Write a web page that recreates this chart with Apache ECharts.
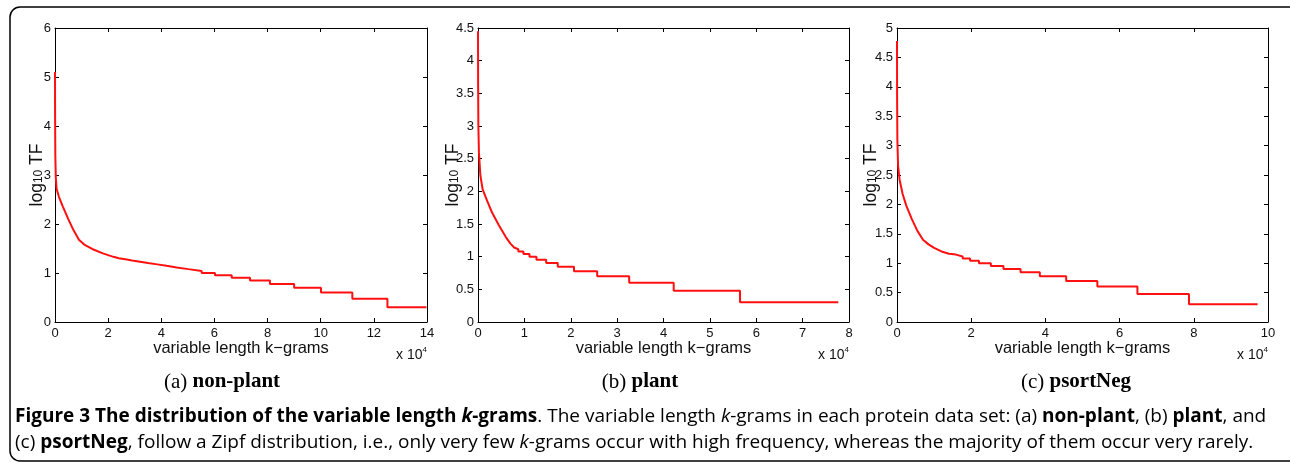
<!DOCTYPE html>
<html>
<head>
<meta charset="utf-8">
<script src="https://cdn.jsdelivr.net/npm/echarts@6/dist/echarts.min.js"></script>
<style>
html, body { margin: 0; padding: 0; background: #fff; }
#chart { width: 1290px; height: 462px; }
</style>
</head>
<body>
<div id="chart"></div>
<script>
// x values are in units of 10^4 k-grams, y values are log10 TF
// steep head of each curve
var nonPlantHeadX = [0, 0.004, 0.012, 0.03, 0.06, 0.15, 0.3, 0.5, 0.7, 0.9, 1.1, 1.4, 1.8, 2.2];
var nonPlantHeadY = [5.1, 4.2, 3.4, 2.95, 2.72, 2.55, 2.35, 2.1, 1.87, 1.68, 1.58, 1.49, 1.4, 1.33];
// staircase tail: level i is held from stepX[i] to stepX[i+1]
var nonPlantStepX = [2.2, 2.4, 2.65, 2.9, 3.2, 3.5, 3.85, 4.2, 4.58, 5.02, 5.52, 6.02, 6.65, 7.34, 8.09, 9.0, 10.01, 11.19, 12.51, 13.98];
var nonPlantStepY = [1.301, 1.279, 1.255, 1.23, 1.204, 1.176, 1.146, 1.114, 1.079, 1.041, 1.0, 0.954, 0.903, 0.845, 0.778, 0.699, 0.602, 0.477, 0.301];

var plantHeadX = [0, 0.003, 0.008, 0.02, 0.05, 0.1, 0.2, 0.3, 0.45, 0.6, 0.7, 0.78];
var plantHeadY = [4.45, 3.6, 3.0, 2.6, 2.25, 2.03, 1.85, 1.68, 1.48, 1.3, 1.2, 1.14];
var plantStepX = [0.78, 0.87, 0.98, 1.11, 1.26, 1.47, 1.72, 2.07, 2.57, 3.26, 4.22, 5.65, 7.77];
var plantStepY = [1.114, 1.079, 1.041, 1.0, 0.954, 0.903, 0.845, 0.778, 0.699, 0.602, 0.477, 0.301];

var psortHeadX = [0, 0.003, 0.01, 0.03, 0.07, 0.15, 0.25, 0.4, 0.55, 0.7, 0.85, 1.0, 1.2, 1.4];
var psortHeadY = [4.78, 3.8, 3.1, 2.65, 2.42, 2.18, 1.98, 1.75, 1.55, 1.4, 1.32, 1.26, 1.2, 1.16];
var psortStepX = [1.4, 1.59, 1.77, 1.97, 2.21, 2.53, 2.87, 3.33, 3.85, 4.56, 5.4, 6.48, 7.87, 9.72];
var psortStepY = [1.146, 1.114, 1.079, 1.041, 1.0, 0.954, 0.903, 0.845, 0.778, 0.699, 0.602, 0.477, 0.301];

var panelLetters = ['(a)', '(b)', '(c)'];
var panelNames = ['non-plant', 'plant', 'psortNeg'];
var xMaxes = [14, 8, 10];
var xIntervals = [2, 1, 2];
var yMaxes = [6, 4.5, 5];
var yIntervals = [1, 0.5, 0.5];

function buildPoints(hx, hy, sx, sy) {
    var pts = [];
    for (var i = 0; i < hx.length; i++) pts.push([hx[i], hy[i]]);
    for (var j = 0; j < sy.length; j++) {
        pts.push([sx[j], sy[j]]);
        pts.push([sx[j + 1], sy[j]]);
    }
    return pts;
}

var seriesData = [
    buildPoints(nonPlantHeadX, nonPlantHeadY, nonPlantStepX, nonPlantStepY),
    buildPoints(plantHeadX, plantHeadY, plantStepX, plantStepY),
    buildPoints(psortHeadX, psortHeadY, psortStepX, psortStepY)
];

// layout of the three panels
var gridLefts = [55, 478, 897];
var gridWidths = [372, 371, 371];
var yNameGaps = [10, 17, 18];
var subCenters = [222, 640, 1076];

var tickFont = { fontFamily: 'Liberation Sans', fontSize: 13, color: '#111' };

var grids = [], xAxes = [], yAxes = [], series = [], graphics = [];

for (var k = 0; k < 3; k++) {
    grids.push({ left: gridLefts[k], top: 28, width: gridWidths[k], height: 294 });

    var xBase = {
        gridIndex: k, type: 'value', min: 0, max: xMaxes[k], interval: xIntervals[k],
        axisLine: { show: true, onZero: false, lineStyle: { color: '#000', width: 1 } },
        axisTick: { show: true, inside: true, length: 4, lineStyle: { color: '#000' } },
        splitLine: { show: false }
    };
    xAxes.push(Object.assign({}, xBase, {
        position: 'bottom',
        axisLabel: Object.assign({ margin: 5 }, tickFont),
        name: 'variable length k\u2212grams',
        nameLocation: 'middle',
        nameGap: 18,
        nameMoveOverlap: false,
        nameTextStyle: { fontFamily: 'Liberation Sans', fontSize: 16.5, color: '#111' }
    }));
    xAxes.push(Object.assign({}, xBase, { position: 'top', axisLabel: { show: false } }));

    var yBase = {
        gridIndex: k, type: 'value', min: 0, max: yMaxes[k], interval: yIntervals[k],
        axisLine: { show: true, onZero: false, lineStyle: { color: '#000', width: 1 } },
        axisTick: { show: true, inside: true, length: 4, lineStyle: { color: '#000' } },
        splitLine: { show: false }
    };
    yAxes.push(Object.assign({}, yBase, {
        position: 'left',
        axisLabel: Object.assign({ margin: 4 }, tickFont),
        name: '{a|log}{b|10}{a| TF}',
        nameLocation: 'middle',
        nameRotate: 90,
        nameGap: yNameGaps[k],
        nameMoveOverlap: false,
        nameTextStyle: {
            rich: {
                a: { fontFamily: 'Liberation Sans', fontSize: 17.5, color: '#111', lineHeight: 17, verticalAlign: 'top' },
                b: { fontFamily: 'Liberation Sans', fontSize: 12, color: '#111', lineHeight: 6, verticalAlign: 'bottom' }
            }
        }
    }));
    yAxes.push(Object.assign({}, yBase, { position: 'right', axisLabel: { show: false } }));

    series.push({
        type: 'line',
        xAxisIndex: 2 * k,
        yAxisIndex: 2 * k,
        data: seriesData[k],
        showSymbol: false,
        lineStyle: { color: '#ff1010', width: 2 },
        itemStyle: { color: '#ff1010' }
    });

    // "x 10^4" exponent note under each x axis
    graphics.push({
        type: 'text',
        style: {
            text: '{n|x 10}{s|4}',
            x: gridLefts[k] + gridWidths[k],
            y: 354,
            textAlign: 'right',
            verticalAlign: 'middle',
            rich: {
                n: { fontFamily: 'Liberation Sans', fontSize: 14, fill: '#111', lineHeight: 14, verticalAlign: 'bottom' },
                s: { fontFamily: 'Liberation Sans', fontSize: 8, fill: '#111', lineHeight: 16, verticalAlign: 'top' }
            }
        }
    });

    // sub caption
    graphics.push({
        type: 'text',
        style: {
            text: '{r|' + panelLetters[k] + ' }{b|' + panelNames[k] + '}',
            x: subCenters[k],
            y: 382,
            textAlign: 'center',
            verticalAlign: 'middle',
            rich: {
                r: { fontFamily: 'Liberation Serif', fontSize: 21, fill: '#000' },
                b: { fontFamily: 'Liberation Serif', fontSize: 21, fontWeight: 'bold', fill: '#000' }
            }
        }
    });
}

var capRich = {
    b: { fontFamily: 'Open Sans', fontSize: 19, fontWeight: 'bold', fill: '#000' },
    bi: { fontFamily: 'Open Sans', fontSize: 19, fontWeight: 'bold', fontStyle: 'italic', fill: '#000' },
    r: { fontFamily: 'Open Sans', fontSize: 19, fill: '#000' },
    i: { fontFamily: 'Open Sans', fontSize: 19, fontStyle: 'italic', fill: '#000' }
};

graphics.push({
    type: 'text',
    style: {
        text: '{b|Figure 3 The distribution of the variable length }{bi|k}{b|-grams}{r|. The variable length }{i|k}{r|-grams in each protein data set: (a) }{b|non-plant}{r|, (b) }{b|plant}{r|, and}',
        x: 15, y: 417, verticalAlign: 'middle', rich: capRich
    }
});
graphics.push({
    type: 'text',
    style: {
        text: '{r|(c) }{b|psortNeg}{r|, follow a Zipf distribution, i.e., only very few }{i|k}{r|-grams occur with high frequency, whereas the majority of them occur very rarely.}',
        x: 15, y: 443, verticalAlign: 'middle', rich: capRich
    }
});

// rounded frame around the figure
graphics.push({
    type: 'rect',
    shape: { x: 10, y: 7, width: 1292, height: 454, r: 10 },
    style: { fill: 'none', stroke: '#000', lineWidth: 1.5 },
    silent: true
});

var myChart = echarts.init(document.getElementById('chart'));
myChart.setOption({
    animation: false,
    backgroundColor: '#fff',
    grid: grids,
    xAxis: xAxes,
    yAxis: yAxes,
    series: series,
    graphic: graphics
});
</script>
</body>
</html>
